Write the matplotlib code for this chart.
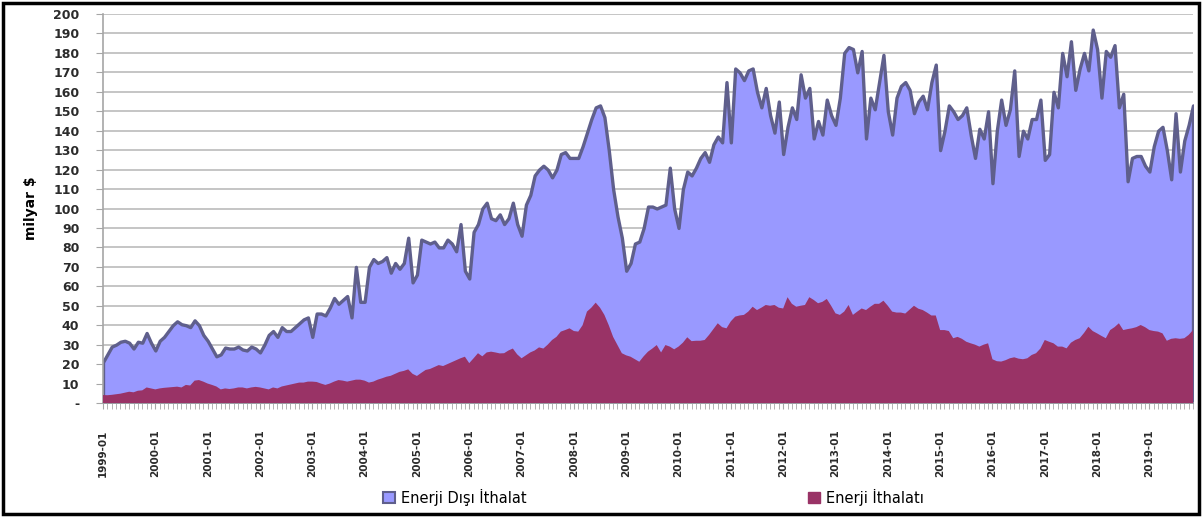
import numpy as np
import matplotlib
matplotlib.use("Agg")
import matplotlib.pyplot as plt
from matplotlib.patches import Rectangle, Patch

# monthly values, milyar $ (1999-01 .. 2019-11)
ne_1999 = [21, 25, 29, 30, 31.5, 32, 31, 28, 31.5, 31, 36, 31]
ne_2000 = [27, 32, 34, 37, 40, 42, 40.5, 40, 39, 42.5, 40, 35]
ne_2001 = [32, 28, 24, 25, 28.5, 28, 28, 29, 27.5, 27, 29, 28]
ne_2002 = [26, 30, 35, 37, 34, 39, 37, 37, 39, 41, 43, 44]
ne_2003 = [34, 46, 46, 45, 49, 54, 51, 53, 55, 44, 70, 52]
ne_2004 = [52, 70, 74, 72, 73, 75, 67, 72, 69, 72, 85, 62]
ne_2005 = [66, 84, 83, 82, 83, 80, 80, 84, 82, 78, 92, 68]
ne_2006 = [64, 88, 92, 100, 103, 95, 94, 97, 92, 95, 103, 92]
ne_2007 = [86, 102, 107, 117, 120, 122, 120, 116, 120, 128, 129, 126]
ne_2008 = [126, 126, 132, 139, 146, 152, 153, 147, 130, 110, 96, 85]
ne_2009 = [68, 72, 82, 83, 90, 101, 101, 100, 101, 102, 121, 100]
ne_2010 = [90, 110, 119, 117, 121, 126, 129, 124, 133, 137, 134, 165]
ne_2011 = [134, 172, 170, 166, 171, 172, 160, 152, 162, 148, 139, 155]
ne_2012 = [128, 142, 152, 146, 169, 157, 162, 136, 145, 138, 156, 148]
ne_2013 = [143, 157, 180, 183, 182, 170, 181, 136, 157, 151, 165, 179]
ne_2014 = [150, 138, 157, 163, 165, 161, 149, 155, 158, 151, 165, 174]
ne_2015 = [130, 140, 153, 150, 146, 148, 152, 138, 126, 141, 136, 150]
ne_2016 = [113, 140, 156, 143, 151, 171, 127, 140, 136, 146, 146, 156]
ne_2017 = [125, 128, 160, 152, 180, 168, 186, 161, 172, 180, 171, 192]
ne_2018 = [182, 157, 181, 178, 184, 152, 159, 114, 126, 127, 127, 122]
ne_2019 = [119, 132, 140, 142, 130, 115, 149, 119, 135, 143, 153]

en_1999 = [4.1, 4, 4.2, 4.5, 4.8, 5.3, 5.8, 5.5, 6.3, 6.5, 8, 7.5]
en_2000 = [7, 7.5, 7.8, 8, 8.2, 8.4, 8, 9.3, 9, 11.5, 11.8, 11]
en_2001 = [10, 9.3, 8.5, 7, 7.5, 7.2, 7.5, 8, 8, 7.5, 8, 8.3]
en_2002 = [8, 7.5, 7, 8, 7.5, 8.5, 9, 9.5, 10, 10.5, 10.5, 11]
en_2003 = [11, 10.8, 10, 9.3, 10, 11, 11.8, 11.5, 11, 11.5, 12, 12]
en_2004 = [11.5, 10.5, 11, 12, 12.7, 13.5, 14, 15, 16, 16.5, 17.3, 15]
en_2005 = [13.9, 15.5, 17, 17.5, 18.5, 19.5, 19, 20, 21, 22, 23, 23.8]
en_2006 = [20.5, 23, 25.6, 24, 26, 26.4, 26, 25.5, 25.6, 27, 28, 25]
en_2007 = [23, 24.5, 26, 27, 28.6, 28, 30, 32.4, 34, 36.7, 37.5, 38.4]
en_2008 = [37, 36.7, 40, 47, 49, 51.6, 49, 45.3, 40, 34, 29.8, 25.6]
en_2009 = [24.5, 23.8, 22.5, 21.2, 24, 26.4, 28, 29.8, 26, 29.8, 29, 27.6]
en_2010 = [29, 31, 33.8, 31.8, 32, 32, 32.4, 35, 38, 41, 39, 38.4]
en_2011 = [42, 44.4, 45, 45.3, 47, 49.5, 47.8, 49, 50.4, 50, 50.4, 49]
en_2012 = [48.6, 54.4, 51, 49.5, 50, 50.4, 54.4, 53, 51.3, 52, 53.5, 50]
en_2013 = [46.1, 45.3, 47, 50.4, 45.3, 47, 48.6, 47.8, 49.5, 51, 51, 52.6]
en_2014 = [50, 47, 46.5, 46.5, 46, 48, 50, 48.5, 47.8, 46.5, 45, 45]
en_2015 = [37.5, 37.5, 37, 33.3, 34, 33, 31.5, 30.7, 30, 29, 30, 30.7]
en_2016 = [22.5, 21.5, 21.3, 22, 23, 23.5, 22.8, 22.5, 23, 24.7, 25.6, 28]
en_2017 = [32.4, 31.5, 30.7, 29, 29, 28.1, 31, 32.4, 33.3, 36, 39.2, 37]
en_2018 = [35.8, 34.5, 33.3, 37.5, 39, 41, 37.5, 38, 38.4, 39, 40.1, 39]
en_2019 = [37.5, 37, 36.7, 35.8, 32, 33, 33.3, 33, 33.3, 35, 37.5]

years = list(range(1999, 2020))

non_energy = np.concatenate([ne_1999, ne_2000, ne_2001, ne_2002, ne_2003, ne_2004, ne_2005,
                             ne_2006, ne_2007, ne_2008, ne_2009, ne_2010, ne_2011, ne_2012,
                             ne_2013, ne_2014, ne_2015, ne_2016, ne_2017, ne_2018, ne_2019])
energy = np.concatenate([en_1999, en_2000, en_2001, en_2002, en_2003, en_2004, en_2005,
                         en_2006, en_2007, en_2008, en_2009, en_2010, en_2011, en_2012,
                         en_2013, en_2014, en_2015, en_2016, en_2017, en_2018, en_2019])
x = np.arange(len(non_energy))

fig = plt.figure(figsize=(12.03, 5.18), dpi=100)
ax = fig.add_axes([103 / 1203, 1 - 403 / 518, 1090 / 1203, 389 / 518])

ax.fill_between(x, 0, non_energy, facecolor="#9999ff", edgecolor="#5f5f8c", linewidth=2.4, zorder=2)
ax.fill_between(x, 0, energy, facecolor="#993366", edgecolor="none", linewidth=0, zorder=3)

ax.set_xlim(0, len(x) - 1)
ax.set_ylim(0, 200)

yt = np.arange(0, 201, 10)
ax.set_yticks(yt)
ax.set_yticklabels(["-"] + [str(v) for v in yt[1:]])
ax.yaxis.grid(True, color="#c0c0c0", linewidth=1.3, zorder=0)
ax.set_axisbelow(True)

ax.set_xticks(np.arange(0, len(x), 12))
ax.set_xticklabels([f"{y}-01" for y in years], rotation=90)
ax.set_xticks(np.arange(0, len(x)), minor=True)

for s in ["top", "right"]:
    ax.spines[s].set_visible(False)
for s in ["left", "bottom"]:
    ax.spines[s].set_color("#a6a6a6")
    ax.spines[s].set_linewidth(1.2)

ax.tick_params(axis="y", length=5, color="#a6a6a6", labelsize=9, pad=12,
               labelcolor="#2b2b2b")
ax.tick_params(axis="x", which="both", length=4, color="#a6a6a6", labelsize=7.5,
               pad=15, labelcolor="#2b2b2b")
for lab in ax.get_xticklabels() + ax.get_yticklabels():
    lab.set_fontweight("bold")

ax.set_ylabel("milyar $", fontsize=10, fontweight="bold")
ax.yaxis.set_label_coords(-0.06, 0.5)

handles = [Patch(facecolor="#9999ff", edgecolor="#5f5f8c", linewidth=1.5),
           Patch(facecolor="#993366", edgecolor="#993366")]
fig.legend(handles, ["Enerji Dışı İthalat", "Enerji İthalatı"], loc="center",
           bbox_to_anchor=(0.543, 1 - 497 / 518), ncol=2, frameon=False,
           fontsize=10.5, handlelength=0.85, handleheight=0.85, handletextpad=0.4,
           columnspacing=19.3)

fig.patches.append(Rectangle((3 / 1203, 4 / 518), 1196 / 1203, 511 / 518, transform=fig.transFigure,
                             fill=False, edgecolor="black", linewidth=2.5))

fig.savefig("out.png", dpi=100)
